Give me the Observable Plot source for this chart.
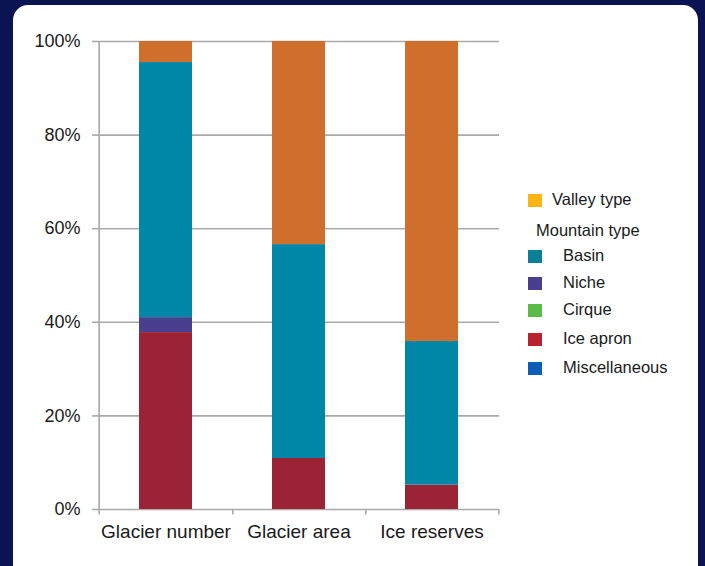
<!DOCTYPE html>
<html>
<head>
<meta charset="utf-8">
<script src="https://cdn.jsdelivr.net/npm/d3@7"></script>
<script src="https://cdn.jsdelivr.net/npm/@observablehq/plot@0.6"></script>
<style>
  html, body { margin: 0; padding: 0; }
  body { width: 705px; height: 566px; background: #0b1453; position: relative; overflow: hidden; font-family: "Liberation Sans", Arial, sans-serif; }
  #panel { position: absolute; left: 13px; top: 5px; width: 685px; height: 580px; background: #fff; border-radius: 15px; }
  #chart { position: absolute; left: 0; top: 0; }
  .leg { position: absolute; font-size: 16.5px; color: #1a1a1a; white-space: nowrap; line-height: 1; }
  .sw { position: absolute; width: 14px; height: 13px; }
</style>
</head>
<body>
<div id="panel"></div>
<div id="chart"></div>
<div id="legend"></div>
<script>
// ---- data ----
const categories = ["Glacier number", "Glacier area", "Ice reserves"];
const seriesNames = ["Miscellaneous", "Ice apron", "Cirque", "Niche", "Basin", "Valley type"];
const miscellaneous = [0, 0, 0];
const iceApron = [37.8, 10.9, 5.2];
const cirque = [0, 0, 0];
const niche = [3.2, 0, 0];
const basin = [54.5, 45.7, 30.7];
const valleyType = [4.5, 43.4, 64.1];
const yTicks = [0, 20, 40, 60, 80, 100];

const barColors = {
  "Miscellaneous": "#0b5db5",
  "Ice apron": "#9c2235",
  "Cirque": "#5cbb47",
  "Niche": "#4a3e8e",
  "Basin": "#0086a6",
  "Valley type": "#d06f2c"
};
const legendItems = [
  {label: "Valley type", color: "#fdb515", indent: false},
  {label: "Mountain type", color: null, indent: false},
  {label: "Basin", color: "#0a7f98", indent: true},
  {label: "Niche", color: "#4a3e8e", indent: true},
  {label: "Cirque", color: "#5cbb47", indent: true},
  {label: "Ice apron", color: "#b8212e", indent: true},
  {label: "Miscellaneous", color: "#0b5db5", indent: true}
];

const seriesValues = [miscellaneous, iceApron, cirque, niche, basin, valleyType];
const table = [];
seriesNames.forEach((s, si) => categories.forEach((c, ci) => table.push({category: c, series: s, value: seriesValues[si][ci]})));

// ---- layout ----
const W = 705, H = 566;
const mL = 98, mR = 206, mT = 41, mB = 57;
const padIn = 0.6, padOut = 0.3;
const step = (W - mL - mR) / (categories.length - padIn + 2 * padOut);
const gridColor = "#a9a9a9";

const plot = Plot.plot({
  width: W, height: H,
  marginLeft: mL, marginRight: mR, marginTop: mT, marginBottom: mB,
  style: {background: "transparent", fontFamily: "'Liberation Sans', Arial, sans-serif", fontSize: "18px", color: "#1a1a1a"},
  x: {type: "band", domain: categories, paddingInner: padIn, paddingOuter: padOut},
  y: {domain: [0, 100]},
  color: {domain: seriesNames, range: seriesNames.map(s => barColors[s])},
  marks: [
    Plot.gridY(yTicks, {stroke: gridColor, strokeOpacity: 1, strokeWidth: 1.6}),
    Plot.axisY(yTicks, {tickSize: 6, tickPadding: 12, stroke: gridColor, strokeWidth: 1.6, tickFormat: d => d + "%", fill: "#1a1a1a", fontSize: 18, label: null}),
    Plot.axisX({tickSize: 0, tickPadding: 15, fill: "#1a1a1a", fontSize: 19, label: null}),
    Plot.ruleX(categories.slice(0, 1), {x: d => d, dx: -step / 2, y1: -1.2, y2: 100, stroke: gridColor, strokeWidth: 1.6}),
    Plot.ruleX(categories, {x: d => d, dx: step / 2, y1: -1.2, y2: 0, stroke: gridColor, strokeWidth: 1.6}),
    Plot.barY(table, Plot.stackY({x: "category", y: "value", fill: "series", order: null}))
  ]
});
document.getElementById("chart").appendChild(plot);

// ---- legend ----
const legend = document.getElementById("legend");
const rowY = [200, 231, 256, 283, 310, 339, 368];
legendItems.forEach((it, i) => {
  const y = rowY[i];
  if (it.color) {
    const sw = document.createElement("div");
    sw.className = "sw";
    sw.style.left = "528px";
    sw.style.top = (y - 6.5) + "px";
    sw.style.background = it.color;
    legend.appendChild(sw);
  }
  const t = document.createElement("div");
  t.className = "leg";
  t.textContent = it.label;
  t.style.left = (it.color ? (it.indent ? 563 : 552) : 536) + "px";
  t.style.top = (y - 9) + "px";
  legend.appendChild(t);
});
</script>
</body>
</html>
